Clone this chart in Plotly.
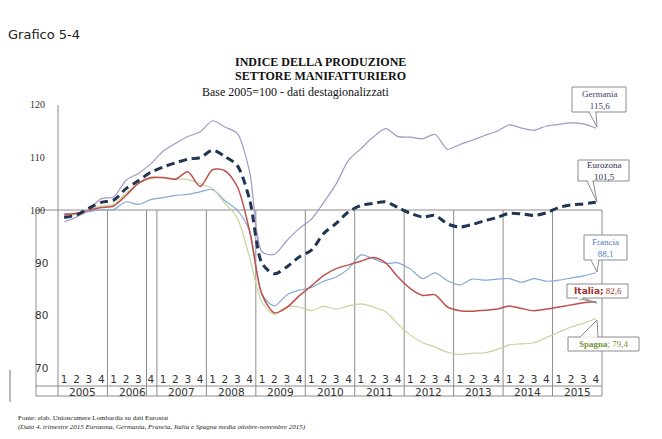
import plotly.graph_objects as go

# ---------------- data ----------------
years = [str(y) for y in range(2005, 2016)]
quarters = ["1", "2", "3", "4"]
x_idx = list(range(44))
quarter_labels = quarters * 11

germania = [97.8, 98.7, 100.1, 102.2, 102.5, 105.7, 107.0, 108.8, 111.2, 112.7, 114.0, 114.9,
            117.0, 115.8, 114.6, 107.3, 92.1, 91.6, 94.2, 96.5, 98.3, 101.5, 105.0, 109.5,
            111.7, 113.9, 115.5, 114.0, 113.9, 113.6, 114.4, 111.6, 112.5, 113.3, 114.2, 115.0,
            116.2, 115.6, 115.2, 116.0, 116.3, 116.6, 116.4, 115.6]
eurozona = [98.6, 99.1, 100.4, 101.5, 101.9, 104.1, 105.6, 107.2, 108.2, 109.0, 109.7, 110.0,
            111.4, 110.2, 108.5, 102.0, 89.9, 87.9, 89.2, 91.1, 92.4, 95.6, 97.5, 99.7,
            100.9, 101.3, 101.6, 100.5, 99.4, 98.7, 99.0, 97.4, 96.8, 97.3, 98.0, 98.6,
            99.4, 99.3, 99.0, 99.5, 100.5, 101.0, 101.2, 101.5]
francia = [99.4, 99.2, 99.7, 100.1, 100.1, 101.6, 101.1, 102.0, 102.4, 102.8, 103.0, 103.5,
           103.9, 101.8, 100.0, 96.0, 84.0, 81.8, 83.9, 84.8, 85.3, 86.5, 87.3, 88.9,
           91.5, 90.8, 89.9, 90.0, 88.8, 87.0, 88.1, 86.6, 85.8, 86.9, 86.7, 86.9,
           87.0, 86.3, 87.0, 86.5, 86.7, 87.1, 87.5, 88.1]
italia = [99.1, 99.4, 100.0, 100.5, 100.8, 102.8, 105.1, 106.2, 106.2, 105.9, 107.3, 104.5,
          107.7, 107.5, 104.5, 96.0, 84.0, 80.5, 81.5, 83.7, 85.6, 87.6, 88.9, 89.6,
          90.3, 91.0, 90.0, 87.3, 85.1, 83.8, 83.9, 81.6, 80.9, 80.8, 81.0, 81.2,
          81.8, 81.3, 80.9, 81.2, 81.6, 82.0, 82.4, 82.6]
spagna = [99.1, 99.2, 100.2, 100.8, 101.1, 103.2, 105.1, 106.0, 106.2, 106.0, 105.8, 105.0,
          104.1, 101.3, 98.5, 91.0, 82.5, 80.2, 81.7, 81.6, 80.9, 81.7, 81.2, 81.8,
          82.2, 81.6, 80.7, 78.3, 76.3, 74.8, 74.0, 73.0, 72.6, 72.8, 72.9, 73.5,
          74.4, 74.6, 74.8, 75.8, 76.8, 77.8, 78.5, 79.4]
ytick_vals = [120, 110, 100, 90, 80, 70]

# ---------------- geometry helpers (pixels -> paper) ----------------
W, H = 662, 439
L, R, T, B = 58, 602, 105, 368


def px(x):
    return (x - L) / (R - L)


def py(y):
    return (B - y) / (B - T)


fig = go.Figure()

GRID = "#8C8C8C"

series = [
    ("Francia", francia, "#86A9D6", 1.2, "solid"),
    ("Spagna", spagna, "#C4D59A", 1.2, "solid"),
    ("Italia", italia, "#C0504D", 1.5, "solid"),
    ("Germania", germania, "#A497C6", 1.2, "solid"),
    ("Eurozona", eurozona, "#1F3552", 3.0, "8px,5px"),
]
for name, vals, col, w, dash in series:
    fig.add_trace(go.Scatter(
        x=x_idx, y=vals, mode="lines", name=name,
        line=dict(color=col, width=w, dash=dash, shape="spline", smoothing=0.8),
        hoverinfo="skip", showlegend=False))

shapes = []


def seg(x0, y0, x1, y1, color=GRID, width=1):
    shapes.append(dict(type="line", xref="paper", yref="paper",
                       x0=px(x0), y0=py(y0), x1=px(x1), y1=py(y1),
                       line=dict(color=color, width=width), layer="below"))


# axis and table grid
seg(58, 105, 58, 396)
seg(36, 210, 602, 210)
seg(36, 386, 602, 386)
seg(36, 396, 602, 396)
seg(36, 210, 36, 396)
for k in range(1, 12):
    xb = L + (R - L) * 4 * k / 44
    seg(xb, 210, xb, 396)
seg(146.5, 210, 146.5, 396)
seg(10, 370, 10, 402, color="#707070")

annotations = []

# y tick labels (mixed fonts as in original)
for v in ytick_vals:
    yy = 210 - (v - 100) * (B - T) / 50
    if v >= 100:
        fnt = dict(family="Liberation Serif", size=10, color="#333333")
        xr = 46.5
    else:
        fnt = dict(family="DejaVu Sans", size=10.5, color="#333333")
        xr = 50
    annotations.append(dict(xref="paper", yref="paper", x=px(xr), y=py(yy),
                            text=str(v), showarrow=False, xanchor="right",
                            yanchor="middle", font=fnt))

# year labels
for k, yr in enumerate(years):
    annotations.append(dict(xref="x", yref="paper", x=4 * k + 1.5, y=py(391.5),
                            text=yr, showarrow=False, xanchor="center", yanchor="middle",
                            font=dict(family="DejaVu Sans", size=10.5, color="#333333")))

# titles
annotations += [
    dict(xref="paper", yref="paper", x=px(6), y=py(34), text="Grafico 5-4", showarrow=False,
         xanchor="left", yanchor="middle",
         font=dict(family="DejaVu Sans", size=13, color="#222222")),
    dict(xref="paper", yref="paper", x=px(320), y=py(62), text="<b>INDICE DELLA PRODUZIONE</b>",
         showarrow=False, xanchor="center", yanchor="middle",
         font=dict(family="Liberation Serif", size=12, color="#111111")),
    dict(xref="paper", yref="paper", x=px(320), y=py(76), text="<b>SETTORE MANIFATTURIERO</b>",
         showarrow=False, xanchor="center", yanchor="middle",
         font=dict(family="Liberation Serif", size=12, color="#111111")),
    dict(xref="paper", yref="paper", x=px(295), y=py(92),
         text="Base 2005=100 - dati destagionalizzati",
         showarrow=False, xanchor="center", yanchor="middle",
         font=dict(family="Liberation Serif", size=12, color="#111111")),
    dict(xref="paper", yref="paper", x=px(16), y=py(418),
         text="Fonte: elab. Unioncamere Lombardia su dati Eurostat",
         showarrow=False, xanchor="left", yanchor="middle",
         font=dict(family="Liberation Serif", size=7, color="#222222")),
    dict(xref="paper", yref="paper", x=px(16), y=py(426.5),
         text="<i>(Dato 4. trimestre 2015 Eurozona, Germania, Francia, Italia e Spagna media ottobre-novembre 2015)</i>",
         showarrow=False, xanchor="left", yanchor="middle",
         font=dict(family="Liberation Serif", size=7, color="#222222")),
]

# callouts: (box x0,x1,y0,y1), wedge points, text, font color
BOXC = "#8C8C8C"
callouts = [
    ((572, 626, 87, 112), [(589, 112), (596, 112), (597, 127)],
     "Germania<br>115,6", "#3F3F6F", "Liberation Serif", 9),
    ((578, 629, 160, 181), [(587, 181), (593, 181), (597, 202)],
     "Eurozona<br>101,5", "#1F2F4F", "Liberation Serif", 9),
    ((584, 627, 235, 260), [(591, 260), (599, 260), (597, 272)],
     "Francia<br>88,1", "#4F81BD", "Liberation Serif", 9),
    ((567, 628, 284, 298), [(576, 298), (583, 298), (597, 303)],
     "<b><span style='font-family:DejaVu Sans'>Italia;</span></b> 82,6", "#A0302D",
     "Liberation Serif", 9),
    ((568, 639, 337, 351), [(580, 337), (598, 337), (597, 320)],
     "<b>Spagna</b>; 79,4", "#77933C", "Liberation Serif", 9),
]
for (x0, x1, y0, y1), wedge, txt, col, fam, size in callouts:
    shapes.append(dict(type="rect", xref="paper", yref="paper",
                       x0=px(x0), x1=px(x1), y0=py(y1), y1=py(y0),
                       line=dict(color=BOXC, width=1), fillcolor="white", layer="above"))
    (ax, ay), (bx, by), (cx, cy) = wedge
    path = "M {} {} L {} {} L {} {}".format(px(ax), py(ay), px(cx), py(cy), px(bx), py(by))
    shapes.append(dict(type="path", xref="paper", yref="paper", path=path,
                       line=dict(color=BOXC, width=1), layer="above"))
    shapes.append(dict(type="line", xref="paper", yref="paper",
                       x0=px(ax + 0.8), x1=px(bx - 0.8), y0=py(ay), y1=py(ay),
                       line=dict(color="white", width=1.5), layer="above"))
    annotations.append(dict(xref="paper", yref="paper", x=px((x0 + x1) / 2), y=py((y0 + y1) / 2),
                            text=txt, showarrow=False, xanchor="center", yanchor="middle",
                            font=dict(family=fam, size=size, color=col)))

fig.update_layout(
    width=W, height=H,
    margin=dict(l=L, r=W - R, t=T, b=H - B, pad=0),
    paper_bgcolor="white", plot_bgcolor="white",
    shapes=shapes, annotations=annotations,
    xaxis=dict(range=[-0.5, 43.5], tickvals=x_idx, ticktext=quarter_labels,
               showgrid=False, zeroline=False, showline=False, ticks="",
               ticklabelstandoff=3,
               tickfont=dict(family="DejaVu Sans", size=10.5, color="#333333"),
               tickangle=0, fixedrange=True),
    yaxis=dict(range=[70, 120], showgrid=False, zeroline=False, showline=False,
               showticklabels=False, ticks="", fixedrange=True),
    showlegend=False,
)

fig.write_html("out.html", config={"staticPlot": True},
               post_script="document.body.style.margin='0px';document.body.style.padding='0px';")
